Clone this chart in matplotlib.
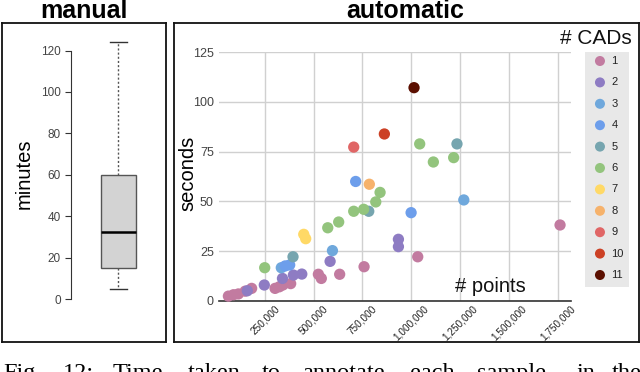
"""Manual vs automatic annotation time: box plot and scatter by number of CADs"""
import matplotlib
matplotlib.use('Agg')
import matplotlib.pyplot as plt

plt.rcParams['font.family'] = ['Liberation Sans', 'DejaVu Sans']

W, H = 640, 372

# Manual annotation time summary [minutes]
manual_stats = dict(whislo=5, q1=15, med=32.5, q3=60, whishi=124)
manual_ticks = [0, 20, 40, 60, 80, 100, 120]

# Automatic annotation: (# points, seconds) for each number of CADs
cad_labels = ['1', '2', '3', '4', '5', '6', '7', '8', '9', '10', '11']
cad_colors = ['#c27ba0', '#8e7cc3', '#6fa8dc', '#6d9eeb', '#76a5af', '#93c47d',
              '#ffd966', '#f6b26b', '#e06666', '#cc4125', '#5b0f00']
points = [
    [64000, 90000, 115000, 150000, 183000, 303000, 325000, 343000, 383000,
     525000, 540000, 634000, 759000, 1034000, 1763000],
    [161000, 248000, 341000, 397000, 440000, 585000, 935000, 935000],
    [335000, 597000, 1270000],
    [355000, 378000, 716000, 1000000],
    [395000, 783000, 1235000],
    [250000, 573000, 629000, 706000, 757000, 819000, 841000, 1044000, 1114000, 1218000],
    [450000, 460000],
    [786000],
    [706000],
    [863000],
    [1015000],
]
seconds = [
    [2.3, 3.0, 3.4, 4.8, 6.2, 6.2, 7.0, 7.9, 8.6,
     13.3, 11.2, 13.3, 17.1, 22.1, 38.1],
    [5.0, 7.9, 11.2, 12.9, 13.4, 19.8, 30.9, 27.2],
    [16.6, 25.2, 50.7],
    [17.5, 18.0, 60.0, 44.3],
    [22.1, 45.0, 78.9],
    [16.6, 36.7, 39.6, 45.0, 46.0, 49.7, 54.5, 78.9, 69.8, 72.0],
    [33.4, 31.2],
    [58.6],
    [77.3],
    [83.9],
    [107.2],
]
x_ticks = [250000, 500000, 750000, 1000000, 1250000, 1500000, 1750000]
y_ticks = [0, 25, 50, 75, 100, 125]


def px_box(left, top, right, bottom):
    """Convert a pixel box (origin top-left) to figure coordinates"""
    return [left / W, 1 - bottom / H, (right - left) / W, (bottom - top) / H]


def add_frame(fig, box):
    """Black rectangle around a panel"""
    ax = fig.add_axes(px_box(*box))
    ax.set_xticks([])
    ax.set_yticks([])
    ax.patch.set_alpha(0)
    for sp in ax.spines.values():
        sp.set_linewidth(1.3)
        sp.set_color('#111111')
    return ax


fig = plt.figure(figsize=(W / 100, H / 100), dpi=100)

# Panel frames
add_frame(fig, (2, 23, 165.5, 341.5))
add_frame(fig, (174, 23.3, 638.8, 341.7))

# Panel titles
fig.text(83.5 / W, 1 - 18.3 / H, 'manual', ha='center', va='baseline',
         fontsize=18, fontweight='bold')
fig.text(405.5 / W, 1 - 18.3 / H, 'automatic', ha='center', va='baseline',
         fontsize=18, fontweight='bold')

# ---- Left: box plot ----
ax1 = fig.add_axes(px_box(70.7, 30, 166, 320))
ax1.patch.set_alpha(0)
ax1.bxp([manual_stats], positions=[0.5], widths=0.364, showfliers=False,
        patch_artist=True,
        boxprops=dict(facecolor='#d3d3d3', edgecolor='#555555', linewidth=1),
        medianprops=dict(color='black', linewidth=1.8),
        whiskerprops=dict(color='#555555', linewidth=1, linestyle=(0, (1.5, 1.5))),
        capprops=dict(color='#333333', linewidth=1))
ax1.set_xlim(0, 1)
ax1.set_ylim(-10.1, 129.9)
ax1.set_xticks([])
ax1.set_yticks(manual_ticks)
for s in ['top', 'right', 'bottom']:
    ax1.spines[s].set_visible(False)
ax1.spines['left'].set_bounds(0, 120)
ax1.spines['left'].set_color('#333333')
ax1.tick_params(axis='y', length=4, pad=3, labelsize=8.5, labelcolor='#444444',
                color='#333333')
fig.text(24 / W, 1 - 174 / H, 'minutes', rotation=90, ha='center', va='center',
         fontsize=14.5)

# ---- Right: scatter ----
ax2 = fig.add_axes(px_box(219.3, 52.3, 570.7, 300.7))
ax2.patch.set_alpha(0)
for xs, ys, col in zip(points, seconds, cad_colors):
    ax2.scatter(xs, ys, s=66, color=col, edgecolors='none', clip_on=False, zorder=3)
ax2.set_xlim(17400, 1817600)
ax2.set_ylim(0, 125)
ax2.set_xticks(x_ticks)
ax2.set_xticklabels([f'{v:,}' for v in x_ticks], rotation=45, ha='center',
                    va='top', fontsize=7.2, color='#222222')
ax2.set_yticks(y_ticks)
ax2.tick_params(axis='y', length=0, pad=4, labelsize=9, labelcolor='#444444')
ax2.tick_params(axis='x', length=0, pad=2)
ax2.grid(True, color='#d0d0d0', linewidth=1)
ax2.set_axisbelow(True)
for s in ['top', 'right', 'left']:
    ax2.spines[s].set_visible(False)
ax2.spines['bottom'].set_color('#333333')
ax2.spines['bottom'].set_linewidth(1.2)
ax2.spines['bottom'].set_zorder(2)
ax2.text(0.872, 0.036, '# points', transform=ax2.transAxes, ha='right',
         va='baseline', fontsize=14.5, color='#111111')
fig.text(631.7 / W, 1 - 44 / H, '# CADs', ha='right', va='baseline',
         fontsize=15, color='#111111')
fig.text(188 / W, 1 - 173 / H, 'seconds', rotation=90, ha='center', va='center',
         fontsize=14.5)

# Legend panel
lg_top, lg_bot = 51.7, 286.7
axl = fig.add_axes(px_box(585, lg_top, 629, lg_bot))
axl.set_facecolor('#e8e8e8')
axl.set_xticks([])
axl.set_yticks([])
for sp in axl.spines.values():
    sp.set_visible(False)
for i, (lab, col) in enumerate(zip(cad_labels, cad_colors)):
    yf = 1 - (61 + 21.4 * i - lg_top) / (lg_bot - lg_top)
    axl.scatter([0.34], [yf], s=52, color=col, edgecolors='none',
                transform=axl.transAxes)
    axl.text(0.6, yf, lab, transform=axl.transAxes, ha='left', va='center',
             fontsize=8, color='#222222')

# Caption (cut off at the bottom of the image, as in the source page)
caption_words = ['Fig.', '12:', 'Time', 'taken', 'to', 'annotate', 'each',
                 'sample', 'in', 'the']
caption_x = [3, 63, 113, 188, 262, 302, 410, 477, 577, 612]
for word, xp in zip(caption_words, caption_x):
    fig.text(xp / W, 1 - 378.5 / H, word, ha='left', va='baseline',
             fontsize=17.5, family=['Liberation Serif', 'DejaVu Serif'])

fig.savefig('out.png', dpi=100)
